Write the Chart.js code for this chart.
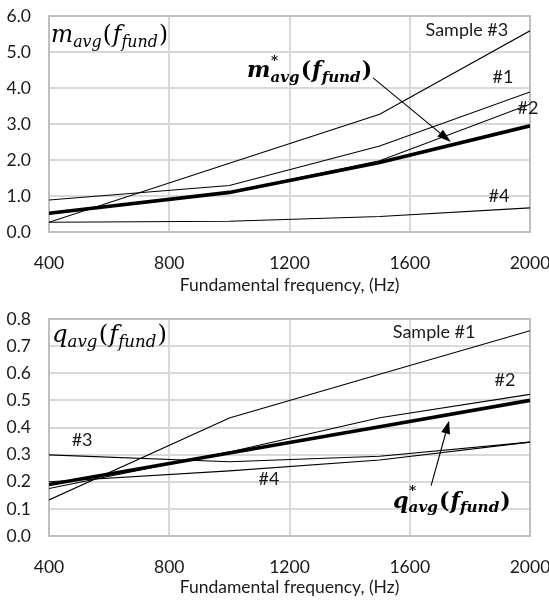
<!DOCTYPE html>
<html><head><meta charset="utf-8">
<script src="https://cdn.jsdelivr.net/npm/chart.js@4"></script>
<style>
html,body{margin:0;padding:0;background:#fff;width:549px;height:602px;overflow:hidden}
#c1{position:absolute;left:0;top:0}
#c2{position:absolute;left:0;top:300px}
</style></head><body>
<canvas id="c1" width="549" height="300"></canvas>
<canvas id="c2" width="549" height="302"></canvas>
<script>
// ---- data ----
const frequencies = [400, 1000, 1500, 2000];
const xTickValues = [400, 800, 1200, 1600, 2000];
const xTitle = 'Fundamental frequency, (Hz)';

// m_avg(f_fund)
const mSample1 = [0.89, 1.29, 2.39, 3.89];
const mSample2 = [0.50, 1.10, 1.98, 3.55];
const mSample3 = [0.27, 1.91, 3.27, 5.59];
const mSample4 = [0.27, 0.30, 0.43, 0.67];
const mAvgFit  = [0.52, 1.10, 1.93, 2.95];
const mYTicks = [0, 1, 2, 3, 4, 5, 6];

// q_avg(f_fund)
const qSample1 = [0.133, 0.435, 0.596, 0.757];
const qSample2 = [0.175, 0.310, 0.436, 0.522];
const qSample3 = [0.299, 0.274, 0.294, 0.346];
const qSample4 = [0.200, 0.240, 0.280, 0.346];
const qAvgFit  = [0.190, 0.306, 0.403, 0.500];
const qYTicks = [0, 0.1, 0.2, 0.3, 0.4, 0.5, 0.6, 0.7, 0.8];

// annotation texts, anchored in data coordinates
const mLabels = [['Sample #3', 1790, 5.61], ['#1', 1910, 4.31], ['#2', 1993, 3.44], ['#4', 1897, 1.00]];
const qLabels = [['Sample #1', 1681, 0.752], ['#2', 1917, 0.576], ['#3', 510, 0.355], ['#4', 1132, 0.211]];

// ---- helpers ----
const TXT = '#1a1a1a';
const FONT = 'Lato';
const TICK_SIZE = 17.5;
const LABEL_SIZE = 18;
function pts(vals){ return frequencies.map((f,i)=>({x:f, y:vals[i]})); }
function ds(vals, thick){ return {data: pts(vals), borderColor:'#000', borderWidth: thick?3.6:1.1, pointRadius:0, tension:0, fill:false}; }

function drawMath(ctx, x, y, parts, targetW, bold){
  const fam = '"DejaVu Serif", serif';
  const wt = bold ? 'bold ' : '';
  function run(S, draw){
    let cx = x;
    for (const p of parts){
      if (typeof p === 'string'){
        ctx.font = wt + S + 'px ' + fam;
        if (draw) ctx.fillText(p, cx, y);
        cx += ctx.measureText(p).width + S*0.04;
      } else {
        ctx.font = 'italic ' + wt + S + 'px ' + fam;
        if (draw) ctx.fillText(p.b, cx, y);
        cx += ctx.measureText(p.b).width;
        const ss = S*0.68;
        if (p.sup){
          ctx.font = (bold?'bold ':'') + ss*0.9 + 'px ' + fam;
          if (draw) ctx.fillText(p.sup, cx + S*0.02, y - S*0.55);
        }
        ctx.font = 'italic ' + wt + ss + 'px ' + fam;
        if (draw) ctx.fillText(p.sub, cx, y + S*0.22);
        cx += ctx.measureText(p.sub).width + S*0.05;
      }
    }
    return cx - x;
  }
  ctx.save();
  ctx.fillStyle = '#000';
  ctx.textAlign = 'left';
  ctx.textBaseline = 'alphabetic';
  const w = run(20, false);
  run(20*targetW/w, true);
  ctx.restore();
}

function arrow(ctx, x1, y1, x2, y2, len, half){
  const a = Math.atan2(y2-y1, x2-x1);
  ctx.save();
  ctx.strokeStyle = '#000'; ctx.fillStyle = '#000'; ctx.lineWidth = 1.1;
  const bx = x2 - len*Math.cos(a), by = y2 - len*Math.sin(a);
  ctx.beginPath(); ctx.moveTo(x1,y1); ctx.lineTo(bx,by); ctx.stroke();
  ctx.beginPath();
  ctx.moveTo(x2,y2);
  ctx.lineTo(bx + half*Math.sin(a), by - half*Math.cos(a));
  ctx.lineTo(bx - half*Math.sin(a), by + half*Math.cos(a));
  ctx.closePath(); ctx.fill();
  ctx.restore();
}

const framePlugin = {
  id:'frame',
  beforeDatasetsDraw(chart){
    const {ctx, chartArea:a} = chart;
    ctx.save(); ctx.strokeStyle='#bfbfbf'; ctx.lineWidth=2;
    ctx.strokeRect(a.left, a.top, a.right-a.left, a.bottom-a.top);
    ctx.restore();
  }
};

function noPad(s){ s.paddingTop = 0; s.paddingBottom = 0; s.paddingLeft = 0; s.paddingRight = 0; }

function makeChart(id, sets, yMax, yTicks, xH, padTop, tickPad, titlePad, annot){
  const ctx = document.getElementById(id).getContext('2d');
  return new Chart(ctx, {
    type:'line',
    data:{ datasets: sets },
    options:{
      responsive:false, devicePixelRatio:1, animation:false,
      layout:{ padding:{ top:padTop, right:19, left:0, bottom:0 } },
      plugins:{ legend:{display:false}, tooltip:{enabled:false}, title:{display:false} },
      scales:{
        x:{ type:'linear', min:xTickValues[0], max:xTickValues[xTickValues.length-1],
            border:{display:false},
            grid:{ color:'#d9d9d9', lineWidth:2, drawTicks:false },
            afterBuildTicks: s => { s.ticks = xTickValues.map(v=>({value:v})); },
            ticks:{ padding:tickPad, autoSkip:false, maxRotation:0, color:TXT, font:{family:FONT, size:TICK_SIZE}, callback:v=>String(v) },
            title:{ display:true, text:xTitle, color:TXT, font:{family:FONT, size:TICK_SIZE}, padding:{top:0, bottom:titlePad} },
            afterFit: s => { s.height = xH; noPad(s); } },
        y:{ type:'linear', min:0, max:yMax,
            border:{display:false},
            grid:{ color:'#d9d9d9', lineWidth:2, drawTicks:false },
            afterBuildTicks: s => { s.ticks = yTicks.map(v=>({value:v})); },
            ticks:{ padding:18, color:TXT, font:{family:FONT, size:TICK_SIZE}, callback:v=>Number(v).toFixed(1) },
            afterFit: s => { s.width = 49; noPad(s); } }
      }
    },
    plugins:[framePlugin, { id:'annot', afterDatasetsDraw(chart){ annot(chart); } }]
  });
}

function drawLabels(chart, labels){
  const {ctx, scales:{x, y}} = chart;
  ctx.save();
  ctx.fillStyle = TXT; ctx.font = LABEL_SIZE + 'px ' + FONT;
  ctx.textAlign = 'center'; ctx.textBaseline = 'middle';
  for (const [t, fx, fy] of labels) ctx.fillText(t, x.getPixelForValue(fx), y.getPixelForValue(fy));
  ctx.restore();
}

makeChart('c1',
  [ds(mSample1), ds(mSample2), ds(mSample3), ds(mSample4), ds(mAvgFit, true)],
  6, mYTicks, 68, 16, 21, 4,
  chart => {
    const {ctx, scales:{x, y}} = chart;
    drawLabels(chart, mLabels);
    drawMath(ctx, x.getPixelForValue(407), y.getPixelForValue(5.28),
      [{b:'m', sub:'avg'}, '(', {b:'f', sub:'fund'}, ')'], 118, false);
    drawMath(ctx, x.getPixelForValue(1059), y.getPixelForValue(4.31),
      [{b:'m', sub:'avg', sup:'*'}, '(', {b:'f', sub:'fund'}, ')'], 126, true);
    arrow(ctx, x.getPixelForValue(1478), y.getPixelForValue(4.28),
               x.getPixelForValue(1737), y.getPixelForValue(2.50), 14, 4.5);
  });

makeChart('c2',
  [ds(qSample1), ds(qSample2), ds(qSample3), ds(qSample4), ds(qAvgFit, true)],
  0.8, qYTicks, 66, 19, 21, 4,
  chart => {
    const {ctx, scales:{x, y}} = chart;
    drawLabels(chart, qLabels);
    drawMath(ctx, x.getPixelForValue(410), y.getPixelForValue(0.716),
      [{b:'q', sub:'avg'}, '(', {b:'f', sub:'fund'}, ')'], 116, false);
    drawMath(ctx, x.getPixelForValue(1544), y.getPixelForValue(0.105),
      [{b:'q', sub:'avg', sup:'*'}, '(', {b:'f', sub:'fund'}, ')'], 119, true);
    arrow(ctx, x.getPixelForValue(1671), y.getPixelForValue(0.186),
               x.getPixelForValue(1731), y.getPixelForValue(0.425), 13, 4.5);
  });
</script>
</body></html>
